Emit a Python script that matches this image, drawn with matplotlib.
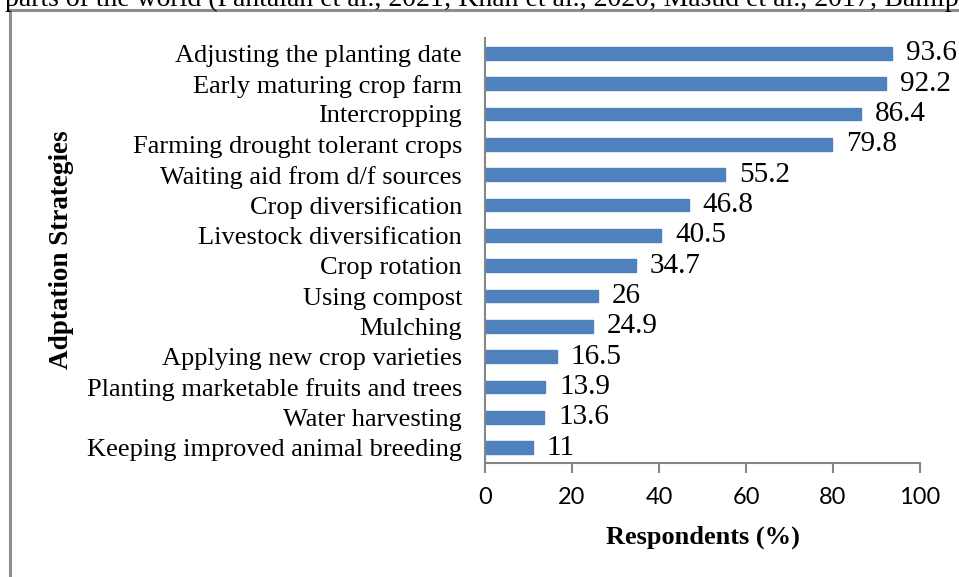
import matplotlib
matplotlib.use("Agg")
import matplotlib.pyplot as plt
from matplotlib.lines import Line2D

categories = [
    "Adjusting the planting date",
    "Early maturing crop farm",
    "Intercropping",
    "Farming drought tolerant crops",
    "Waiting aid from d/f sources",
    "Crop diversification",
    "Livestock diversification",
    "Crop rotation",
    "Using compost",
    "Mulching",
    "Applying new crop varieties",
    "Planting marketable fruits and trees",
    "Water harvesting",
    "Keeping improved animal breeding",
]
values = [93.6, 92.2, 86.4, 79.8, 55.2, 46.8, 40.5, 34.7, 26, 24.9, 16.5, 13.9, 13.6, 11]
value_labels = ["93.6", "92.2", "86.4", "79.8", "55.2", "46.8", "40.5", "34.7", "26", "24.9", "16.5", "13.9", "13.6", "11"]
xticks = [0, 20, 40, 60, 80, 100]

W, H = 959, 577
fig = plt.figure(figsize=(W / 100, H / 100), dpi=100)
serif = ["Liberation Serif", "DejaVu Serif"]

# page text cut off at top (as in the reference)
fig.text(5 / W, 1 - 6 / H,
         "parts of the world (Pantalan et al., 2021; Khan et al., 2020; Masud et al., 2017; Bamipa",
         family=serif, fontsize=20, va="baseline", ha="left")

# frame lines (left and top)
gray = "#8e8e8e"
fig.add_artist(Line2D([10 / W, 10 / W], [0, 1 - 10 / H], color=gray, lw=2.2, transform=fig.transFigure))
fig.add_artist(Line2D([10 / W, 1], [1 - 10 / H, 1 - 10 / H], color=gray, lw=2.2, transform=fig.transFigure))

ax = fig.add_axes([485 / W, 1 - 463 / H, (920 - 485) / W, (463 - 38) / H])
y = list(range(len(categories)))
ax.barh(y, values, height=0.42, color="#4F81BD", edgecolor="#4F81BD")
ax.set_ylim(len(categories) - 0.5, -0.5)
ax.set_xlim(0, 100)
ax.set_xticks(xticks)
ax.set_xticklabels([str(t) for t in xticks], family=["Lato", "DejaVu Sans"], fontsize=17)
ax.set_yticks(y)
ax.set_yticklabels(categories, family=serif, fontsize=19)

for yi, v, lab in zip(y, values, value_labels):
    ax.annotate(lab, (v, yi), xytext=(10, 0), textcoords="offset points",
                va="center", ha="left", family=serif, fontsize=21)

for s in ["top", "right"]:
    ax.spines[s].set_visible(False)
for s in ["left", "bottom"]:
    ax.spines[s].set_color("#868686")
    ax.spines[s].set_linewidth(1.5)
ax.tick_params(axis="y", length=0, pad=16.5)
ax.tick_params(axis="x", direction="out", length=7, width=1.5, color="#868686", pad=10)

ax.set_xlabel("Respondents (%)", family=serif, fontsize=19, fontweight="bold", labelpad=13)
fig.text(62 / W, 1 - 250 / H, "Adptation Strategies", family=serif, fontsize=19.5,
         fontweight="bold", rotation=90, ha="center", va="center")

fig.savefig("out.png", dpi=100)
